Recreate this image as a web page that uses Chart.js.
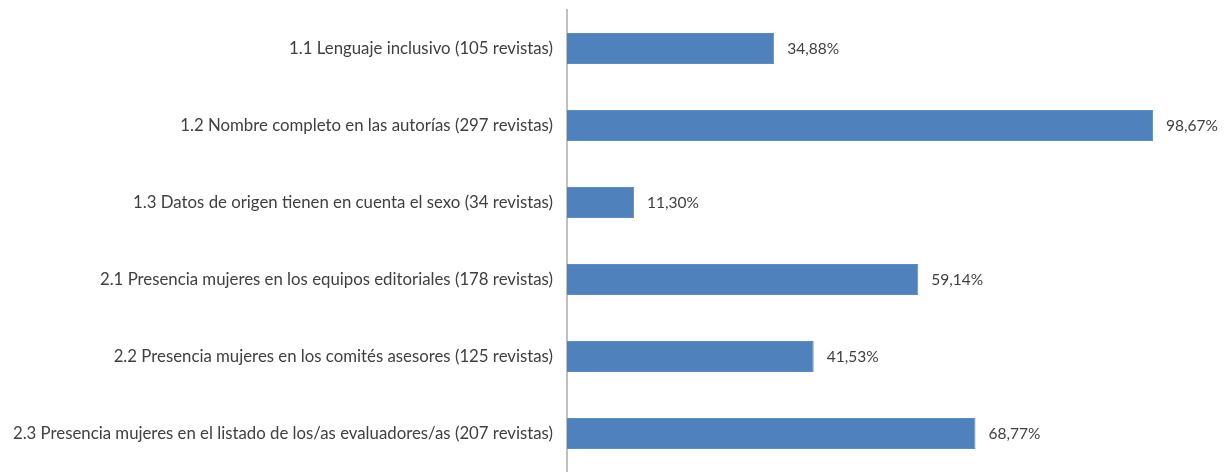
<!DOCTYPE html>
<html><head><meta charset="utf-8">
<script src="https://cdn.jsdelivr.net/npm/chart.js@4/dist/chart.umd.min.js"></script>
<style>html,body{margin:0;padding:0;background:#fff;overflow:hidden}canvas{display:block}</style>
</head><body><canvas id="c" width="1227" height="472"></canvas>
<script>
const categories = [
  "1.1 Lenguaje inclusivo (105 revistas)",
  "1.2 Nombre completo en las autorías (297 revistas)",
  "1.3 Datos de origen tienen en cuenta el sexo (34 revistas)",
  "2.1 Presencia mujeres en los equipos editoriales (178 revistas)",
  "2.2 Presencia mujeres en los comités asesores (125 revistas)",
  "2.3 Presencia mujeres en el listado de los/as evaluadores/as (207 revistas)"
];
const values = [34.88, 98.67, 11.30, 59.14, 41.53, 68.77];
const valueLabels = ["34,88%", "98,67%", "11,30%", "59,14%", "41,53%", "68,77%"];

const FONT = "Lato, 'Open Sans', sans-serif";
const labelPlugin = {
  id: 'valLabels',
  afterDatasetsDraw(chart) {
    const ctx = chart.ctx;
    const meta = chart.getDatasetMeta(0);
    ctx.save();
    ctx.font = "15.5px " + FONT;
    ctx.fillStyle = "#404040";
    ctx.textBaseline = "middle";
    ctx.textAlign = "left";
    meta.data.forEach((bar, i) => {
      ctx.fillText(valueLabels[i], bar.x + 13, bar.y);
    });
    ctx.restore();
  }
};

new Chart(document.getElementById('c'), {
  type: 'bar',
  data: {
    labels: categories,
    datasets: [{
      data: values,
      backgroundColor: '#4f81bd',
      borderColor: '#5b8cc6',
      borderWidth: 1,
      categoryPercentage: 0.40,
      barPercentage: 1.0
    }]
  },
  options: {
    indexAxis: 'y',
    responsive: false,
    animation: false,
    devicePixelRatio: 1,
    layout: { padding: { top: 10, right: 66, bottom: 0, left: 0 } },
    plugins: { legend: { display: false }, tooltip: { enabled: false } },
    scales: {
      x: { display: false, min: 0, max: 100 },
      y: {
        grid: { display: false, drawTicks: false },
        border: { display: true, color: '#c0c0c0', width: 2 },
        ticks: { color: '#404040', font: { family: FONT, size: 16.8 }, padding: 14 },
        afterFit(scale) { scale.width = 567; scale.paddingTop = 0; scale.paddingBottom = 0; }
      }
    }
  },
  plugins: [labelPlugin]
});
</script></body></html>
